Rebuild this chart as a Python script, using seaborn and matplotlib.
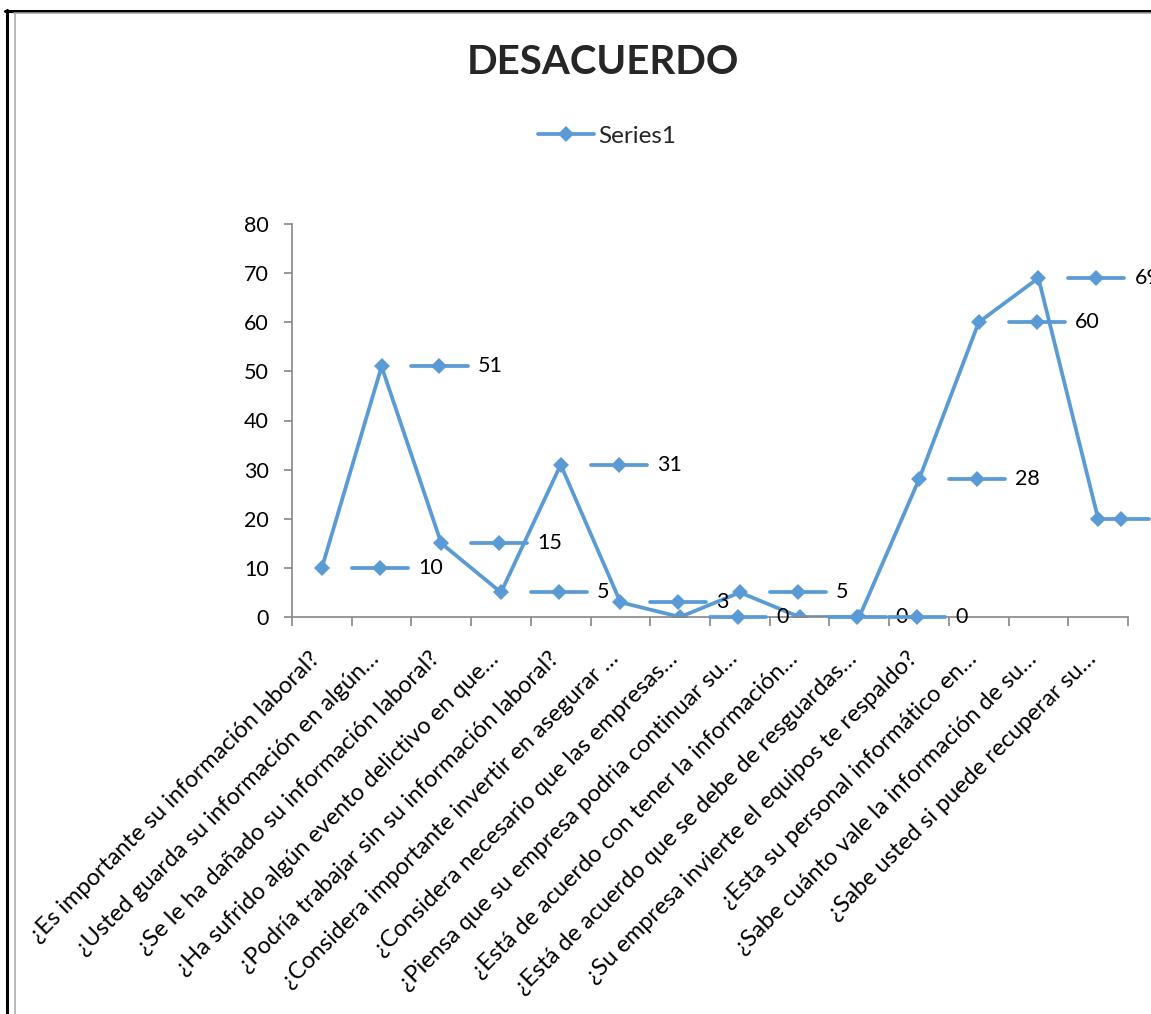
import numpy as np
import pandas as pd
import matplotlib
matplotlib.use("Agg")
import matplotlib.pyplot as plt
import seaborn as sns
from matplotlib.lines import Line2D
from matplotlib.transforms import ScaledTranslation

# ---- data ---------------------------------------------------------------
questions = [
    "¿Es importante su información laboral?",
    "¿Usted guarda su información en algún…",
    "¿Se le ha dañado su información laboral?",
    "¿Ha sufrido algún evento delictivo en que…",
    "¿Podría trabajar sin su información laboral?",
    "¿Considera importante invertir en asegurar …",
    "¿Considera necesario que las empresas…",
    "¿Piensa que su empresa podria continuar su…",
    "¿Está de acuerdo con tener la información…",
    "¿Está de acuerdo que se debe de resguardas…",
    "¿Su empresa invierte el equipos te respaldo?",
    "¿Esta su personal informático en…",
    "¿Sabe cuánto vale la información de su…",
    "¿Sabe usted si puede recuperar su…",
]
desacuerdo = [10, 51, 15, 5, 31, 3, 0, 5, 0, 0, 28, 60, 69, 20]
series_name = "Series1"
chart_title = "DESACUERDO"
y_ticks = [0, 10, 20, 30, 40, 50, 60, 70, 80]

# ---- style --------------------------------------------------------------
sns.set_theme(style="white")
plt.rcParams["font.family"] = ["Lato", "DejaVu Sans"]
BLUE = "#5B9BD5"
GREY = "#868686"
FS_NUM = 15.5
FS_TXT = 17
LW = 2.7
MS = 8

W, H = 1151, 1014
fig = plt.figure(figsize=(W / 100, H / 100), dpi=100)
ax = fig.add_axes([292 / W, 1 - 617 / H, (1128 - 292) / W, (617 - 224) / H])

df = pd.DataFrame({"pos": np.arange(len(questions)), "valor": desacuerdo})
sns.lineplot(data=df, x="pos", y="valor", ax=ax, color=BLUE, lw=LW,
             marker="D", markersize=MS, markeredgewidth=0,
             label=series_name, solid_joinstyle="round")

# data labels: legend key + value, placed to the right of each point
key_center = np.minimum(df["pos"] + 0.97, 13.39)
for kx, v in zip(key_center, df["valor"]):
    ax.plot([kx - 0.47, kx, kx + 0.47], [v, v, v], color=BLUE, lw=LW,
            marker="D", markersize=MS, markeredgewidth=0, markevery=[1],
            clip_on=False, zorder=4)
    ax.text(kx + 0.64, v, f"{v}", fontsize=FS_NUM, color="black",
            ha="left", va="center", clip_on=False, zorder=3)

# axes
ax.set_xlim(-0.5, len(questions) - 0.5)
ax.set_ylim(0, 80)
ax.set_yticks(y_ticks)
ax.set_xlabel("")
ax.set_ylabel("")
for s in ["top", "right"]:
    ax.spines[s].set_visible(False)
for s in ["left", "bottom"]:
    ax.spines[s].set_color(GREY)
    ax.spines[s].set_linewidth(1.2)

ax.tick_params(axis="y", which="major", length=5.8, width=1.2, color=GREY,
               direction="out", left=True, labelsize=FS_NUM, pad=11,
               labelcolor="black")
ax.set_xticks(np.arange(len(questions)))
ax.set_xticks(np.arange(len(questions) + 1) - 0.5, minor=True)
ax.tick_params(axis="x", which="major", length=0, pad=0, labelsize=FS_TXT,
               labelcolor="black")
ax.tick_params(axis="x", which="minor", length=6.5, width=1.2, color=GREY,
               direction="out", bottom=True)
ax.set_xticklabels(questions, rotation=45, ha="right", va="top",
                   rotation_mode="anchor")
shift = ScaledTranslation(-0.13, -0.31, fig.dpi_scale_trans)
for lab in ax.get_xticklabels():
    lab.set_transform(lab.get_transform() + shift)

# legend and title
ax.legend(loc="center", bbox_to_anchor=(607 / W, 1 - 136 / H),
          bbox_transform=fig.transFigure, frameon=False, fontsize=17.5,
          handlelength=2.3, handletextpad=0.2)
fig.text(603 / W, 1 - 63 / H, chart_title, fontsize=29, fontweight="bold",
         ha="center", va="center")

# outer frame
fig.add_artist(Line2D([6.5 / W, 6.5 / W], [0, 1 - 10 / H], color="black",
                      lw=2.2, transform=fig.transFigure))
fig.add_artist(Line2D([5 / W, 1], [1 - 11 / H, 1 - 11 / H], color="black",
                      lw=2.2, transform=fig.transFigure))
fig.add_artist(Line2D([14.5 / W, 14.5 / W], [0, 1 - 12.5 / H], color="#a6a6a6",
                      lw=1.1, transform=fig.transFigure))
fig.add_artist(Line2D([14 / W, 1], [1 - 12.8 / H, 1 - 12.8 / H], color="#a6a6a6",
                      lw=1.1, transform=fig.transFigure))

fig.savefig("out.png", dpi=100)
